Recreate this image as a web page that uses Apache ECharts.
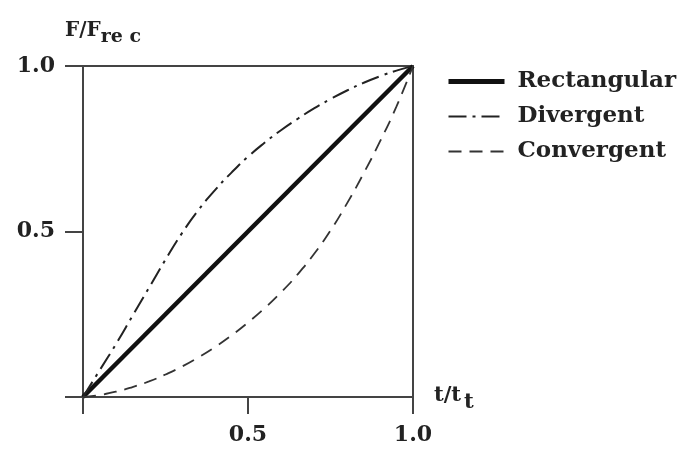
<!DOCTYPE html>
<html>
<head>
<meta charset="utf-8">
<script src="https://cdn.jsdelivr.net/npm/echarts@6/dist/echarts.min.js"></script>
<style>
html,body{margin:0;padding:0;background:#fff;}
#chart{width:692px;height:451px;}
</style>
</head>
<body>
<div id="chart"></div>
<script>
// Data
const seriesNames = ['Rectangular', 'Divergent', 'Convergent'];
const rectT = [0, 1.0];
const rectF = [0, 1.0];
const curveT = [0, 0.05, 0.1, 0.15, 0.2, 0.25, 0.3, 0.35, 0.4, 0.45, 0.5, 0.55, 0.6, 0.65, 0.7, 0.75, 0.8, 0.85, 0.9, 0.95, 1.0];
const divF = [0, 0.08, 0.16, 0.245, 0.33, 0.415, 0.495, 0.565, 0.625, 0.678, 0.726, 0.768, 0.806, 0.84, 0.872, 0.9, 0.926, 0.949, 0.969, 0.986, 1.0];
const convF = [0, 0.006, 0.016, 0.03, 0.047, 0.068, 0.092, 0.12, 0.151, 0.186, 0.225, 0.268, 0.316, 0.37, 0.432, 0.503, 0.585, 0.675, 0.772, 0.878, 1.0];
const xTickLabels = ['', '0.5', '1.0'];
const yTickLabels = ['', '0.5', '1.0'];

function pairs(xs, ys) { return xs.map((x, i) => [x, ys[i]]); }

const FONT = 'DejaVu Serif';
const chart = echarts.init(document.getElementById('chart'), null, {renderer: 'canvas'});
chart.setOption({
  backgroundColor: '#ffffff',
  animation: false,
  grid: {left: 83, top: 66, right: 279, bottom: 54, show: true, borderColor: '#444', borderWidth: 2, backgroundColor: 'transparent'},
  xAxis: {
    type: 'value', min: 0, max: 1, interval: 0.5,
    axisLine: {show: true, lineStyle: {color: '#444', width: 2}},
    axisTick: {show: true, inside: false, length: 17, lineStyle: {color: '#444', width: 2}},
    splitLine: {show: false},
    axisLabel: {margin: 27, color: '#222', fontFamily: FONT, fontWeight: 'bold', fontSize: 22,
      formatter: v => xTickLabels[Math.round(v / 0.5)]}
  },
  yAxis: {
    type: 'value', min: 0, max: 1, interval: 0.5,
    axisLine: {show: true, lineStyle: {color: '#444', width: 2}},
    axisTick: {show: true, inside: false, length: 18, lineStyle: {color: '#444', width: 2}},
    splitLine: {show: false},
    axisLabel: {margin: 28, color: '#222', fontFamily: FONT, fontWeight: 'bold', fontSize: 22,
      formatter: v => yTickLabels[Math.round(v / 0.5)]}
  },
  legend: {
    orient: 'vertical', left: 441, top: 65, itemWidth: 56, itemHeight: 14, itemGap: 12,
    itemStyle: {opacity: 0},
    textStyle: {fontFamily: FONT, fontWeight: 'bold', fontSize: 23, color: '#222', padding: [0, 0, 0, 8]},
    data: [
      {name: seriesNames[0], lineStyle: {width: 5, color: '#111'}},
      {name: seriesNames[1], lineStyle: {width: 2, color: '#222'}},
      {name: seriesNames[2], lineStyle: {width: 2, color: '#333'}}
    ]
  },
  graphic: [
    {type: 'text', left: 65, top: 21, style: {
      text: '{a|F/F}{b|re c}', rich: {
        a: {fontFamily: FONT, fontWeight: 'bold', fontSize: 20, fill: '#222'},
        b: {fontFamily: FONT, fontWeight: 'bold', fontSize: 19, fill: '#222', padding: [13, 0, 0, 0]}
      }}},
    {type: 'text', left: 434, top: 385, style: {
      text: '{a|t/t}{b|t}', rich: {
        a: {fontFamily: FONT, fontWeight: 'bold', fontSize: 21, fill: '#222'},
        b: {fontFamily: FONT, fontWeight: 'bold', fontSize: 21, fill: '#222', padding: [15, 0, 0, 3]}
      }}}
  ],
  series: [
    {name: seriesNames[0], type: 'line', data: pairs(rectT, rectF), symbol: 'none',
      lineStyle: {color: '#111', width: 4.5, type: 'solid'}, itemStyle: {color: '#111'}},
    {name: seriesNames[1], type: 'line', data: pairs(curveT, divF), symbol: 'none', smooth: true,
      lineStyle: {color: '#222', width: 2, type: [18, 6, 3, 6]}, itemStyle: {color: '#222'}},
    {name: seriesNames[2], type: 'line', data: pairs(curveT, convF), symbol: 'none', smooth: true,
      lineStyle: {color: '#333', width: 1.8, type: [13, 8]}, itemStyle: {color: '#333'}}
  ]
});
</script>
</body>
</html>
